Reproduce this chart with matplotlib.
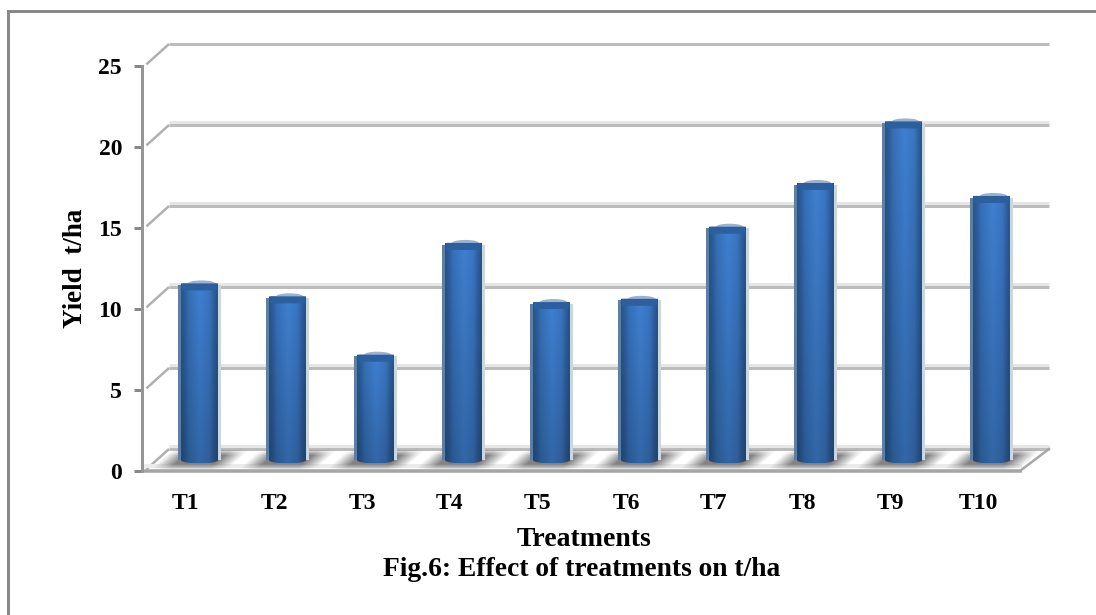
import numpy as np
import matplotlib
matplotlib.use("Agg")
import matplotlib.pyplot as plt
from matplotlib.lines import Line2D
from matplotlib.patches import Ellipse, FancyBboxPatch, PathPatch, Polygon, Rectangle
from matplotlib.path import Path
from matplotlib.colors import to_rgb

# Values
treatments = ["T1", "T2", "T3", "T4", "T5", "T6", "T7", "T8", "T9", "T10"]
yield_t_ha = [10.9, 10.1, 6.5, 13.4, 9.75, 9.95, 14.4, 17.1, 20.9, 16.3]
y_ticks = [0, 5, 10, 15, 20, 25]

W, H = 1096, 615
# plot box in pixels
LEFT, RIGHT, BOTTOM, TOP = 142, 1022, 471, 66
PX_X = (RIGHT - LEFT) / 10
PX_Y = (BOTTOM - TOP) / 25
# depth of the fake 3D box, in data units
DX = 27 / PX_X
DY = 22 / PX_Y
BAR_HALF = 18.5 / PX_X
CAP_H = 7 / PX_Y

plt.rcParams["font.family"] = ["Liberation Serif", "DejaVu Serif"]
plt.rcParams["font.weight"] = "bold"


def px(n):
    # pixel widths to line points
    return n * 72 / 100


fig = plt.figure(figsize=(W / 100, H / 100), dpi=100, facecolor="white")
ax = fig.add_axes([LEFT / W, 1 - BOTTOM / H, (RIGHT - LEFT) / W, (BOTTOM - TOP) / H])
ax.patch.set_visible(False)

# outer frame, open on the right and at the bottom
fig.add_artist(Line2D([7.5 / W, 7.5 / W, 1], [0, 1 - 10.5 / H, 1 - 10.5 / H],
                      color="#888888", lw=px(3), solid_joinstyle="miter"))

# floor
ax.add_patch(Polygon([(0, 0), (10, 0), (10 + DX, DY), (DX, DY)], closed=True,
                     facecolor="white", edgecolor="none", zorder=1, clip_on=False))
ax.plot([0.02, 10], [0.32, 0.32], color="#ececec", lw=px(4), zorder=2, clip_on=False,
        solid_capstyle="butt")

# back wall gridlines and the diagonals running to the axis
for v in y_ticks:
    if v != 25:
        ax.plot([DX, 10 + DX], [v + DY + 0.2, v + DY + 0.2], color="#e6e6e6", lw=px(3),
                zorder=1, clip_on=False, solid_capstyle="butt")
    ax.plot([DX, 10 + DX], [v + DY, v + DY], color="#bcbcbc", lw=px(3), zorder=1.5,
            clip_on=False, solid_capstyle="butt")
    ax.plot([0.05, DX], [v + 0.1, v + DY], color="#b0b0b0", lw=px(2.5), zorder=1.5,
            clip_on=False, solid_capstyle="butt")
ax.plot([10, 10 + DX], [0.1, DY], color="#a8a8a8", lw=px(2.5), zorder=2, clip_on=False)

# floor front edge
ax.plot([0, 10], [0, 0], color="#a5a5a5", lw=px(3.5), zorder=3, clip_on=False,
        solid_capstyle="butt")

# colour across a cylinder, dark sides and a bright middle
stops = np.array([0.0, 0.1, 0.22, 0.52, 0.78, 0.9, 1.0])
stop_cols = np.array([to_rgb(c) for c in ["#27568a", "#2c5f9c", "#3671b8", "#3f80d2",
                                          "#3a75c0", "#2d609e", "#285489"]])

for i, val in enumerate(yield_t_ha):
    cx = i + 0.5 + DX / 2
    base = DY / 2

    # soft shadow on the floor, leaning with the depth of the box
    xs = np.linspace(-0.62, 0.62, 90)
    ys = np.linspace(-0.55, 0.6, 24) * DY
    gx, gy = np.meshgrid(xs, ys)
    skew = gx - gy / DY * 0.28
    a = np.clip((0.44 - np.abs(skew)) / 0.22, 0, 1) * np.clip((0.5 * DY - np.abs(gy)) / (0.3 * DY), 0, 1)
    shadow = np.zeros(gx.shape + (4,))
    shadow[..., :3] = 0.42
    shadow[..., 3] = a * 0.85
    ax.imshow(shadow, extent=[cx - 0.62, cx + 0.62, base + ys[0], base + ys[-1]],
              origin="lower", aspect="auto", zorder=2.5, clip_on=False,
              interpolation="bilinear")

    # pale fringes on both sides of the cylinder
    ax.add_patch(Rectangle((cx - BAR_HALF - 3 / PX_X, base), 3 / PX_X, val - 0.1,
                           facecolor="#5f7ea3", edgecolor="none", zorder=3.2, clip_on=False))
    ax.add_patch(Rectangle((cx + BAR_HALF, base), 3 / PX_X, val - 0.1,
                           facecolor="#cbd6e3", edgecolor="none", zorder=3.2, clip_on=False))

    # cylinder body, shaded across and darker toward the floor
    profile = np.array([np.interp(np.linspace(0, 1, 48), stops, stop_cols[:, c]) for c in range(3)]).T
    fade = np.linspace(0.8, 1.0, 60)[:, None, None]
    body = np.clip(profile[None, :, :] * fade, 0, 1)
    bottom = base - 3.5 / PX_Y
    top = base + val
    im = ax.imshow(body, extent=[cx - BAR_HALF, cx + BAR_HALF, bottom, top], origin="lower",
                   aspect="auto", zorder=3.5, clip_on=True, interpolation="bilinear")
    t = np.linspace(np.pi, 2 * np.pi, 40)
    outline = list(zip(cx + BAR_HALF * np.cos(t), base + 3.5 / PX_Y * np.sin(t)))
    outline += [(cx + BAR_HALF, top), (cx - BAR_HALF, top), (cx - BAR_HALF, base)]
    clip = PathPatch(Path(outline), transform=ax.transData, facecolor="none", edgecolor="none")
    im.set_clip_path(clip)

    # cap of the cylinder: pale back rim, then a flat dark top
    ax.add_patch(Ellipse((cx + 2 / PX_X, top), 2 * BAR_HALF - 10 / PX_X, 6 / PX_Y, facecolor="#9db2cf",
                         edgecolor="none", zorder=3.6, clip_on=False))
    ax.add_patch(FancyBboxPatch((cx - BAR_HALF + 1 / PX_X, top - CAP_H), 2 * BAR_HALF - 2 / PX_X, CAP_H,
                                boxstyle="round,pad=0,rounding_size=0.02", mutation_aspect=4,
                                facecolor="#2c5f9e", edgecolor="none", zorder=3.7, clip_on=False))

ax.set_xlim(0, 10)
ax.set_ylim(0, 25)

for name in ["top", "right", "bottom"]:
    ax.spines[name].set_visible(False)
ax.spines["left"].set_color("#969696")
ax.spines["left"].set_linewidth(px(3))
ax.spines["left"].set_zorder(4)

ax.set_yticks(y_ticks)
ax.set_yticklabels([str(v) for v in y_ticks], fontsize=17, fontweight="bold")
ax.tick_params(axis="y", length=px(8), width=px(3), color="#888888", pad=px(12))
ax.set_xticks(np.arange(10) + 0.5)
ax.set_xticklabels(treatments, fontsize=17, fontweight="bold")
ax.tick_params(axis="x", length=0, pad=px(22))

fig.text(75 / W, 1 - 268 / H, "Yield  t/ha", rotation=90, ha="center", va="center",
         fontsize=19.5, fontweight="bold")
fig.text(584 / W, 1 - 539 / H, "Treatments", ha="center", va="center",
         fontsize=20, fontweight="bold")
fig.text(581.5 / W, 1 - 570 / H, "Fig.6: Effect of treatments on t/ha", ha="center", va="center",
         fontsize=19.8, fontweight="bold")

fig.savefig("out.png", dpi=100)
